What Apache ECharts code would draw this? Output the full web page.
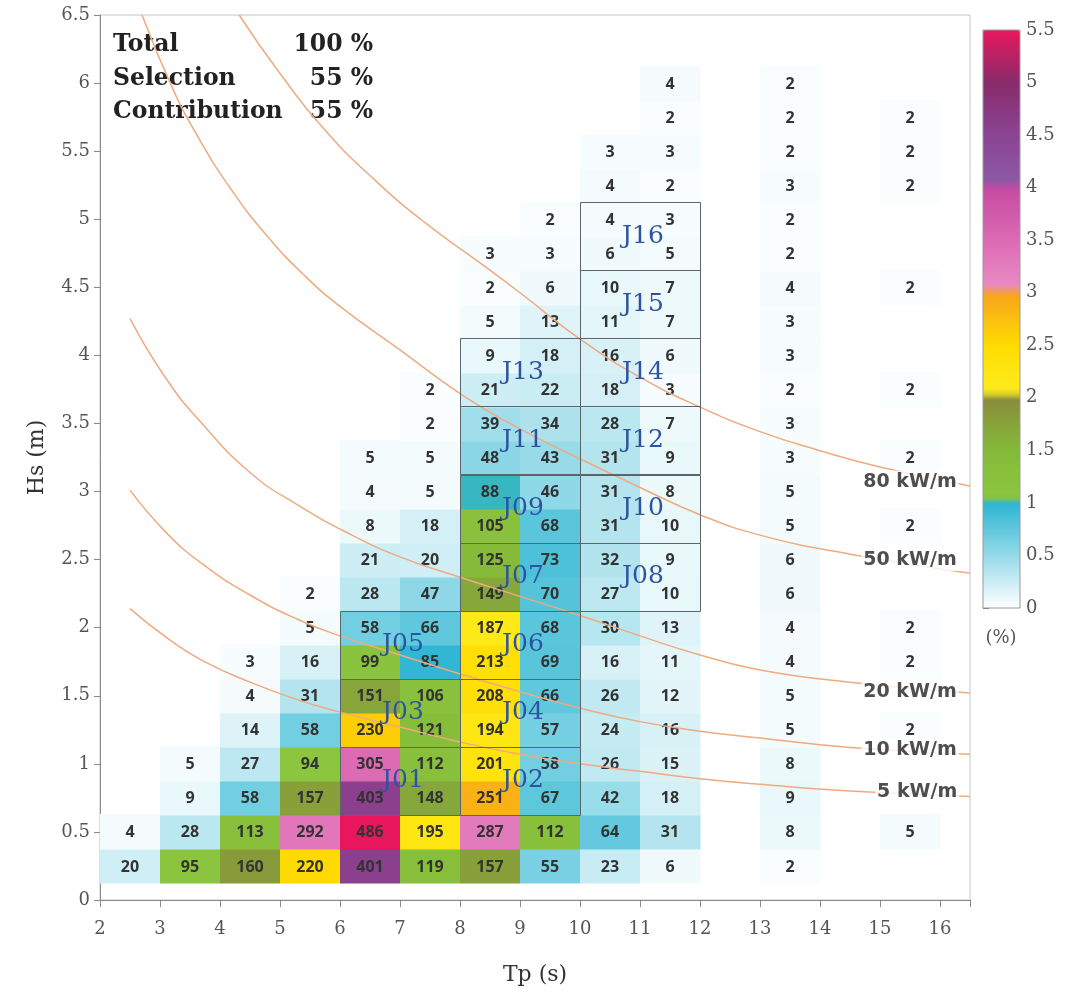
<!DOCTYPE html>
<html><head><meta charset="utf-8">
<script src="https://cdn.jsdelivr.net/npm/echarts@6/dist/echarts.min.js"></script>
<style>html,body{margin:0;padding:0;background:#fff}#c{width:1071px;height:992px}</style>
</head><body><div id="c"></div>
<script>
// ---------- DATA ----------
// Tp bin centres (s)
const tpCenters = [2.5, 3.5, 4.5, 5.5, 6.5, 7.5, 8.5, 9.5, 10.5, 11.5, 13.5, 15.5];
// Hs bin centres (m), bottom to top
const hsCenters = [0.25, 0.5, 0.75, 1, 1.25, 1.5, 1.75, 2, 2.25, 2.5, 2.75, 3, 3.25, 3.5, 3.75, 4, 4.25, 4.5, 4.75, 5, 5.25, 5.5, 5.75, 6];
// occurrence counts per Tp column, listed from Hs = 0.25 upwards
const n = null;
const countTp2_5  = [20, 4];
const countTp3_5  = [95, 28, 9, 5];
const countTp4_5  = [160, 113, 58, 27, 14, 4, 3];
const countTp5_5  = [220, 292, 157, 94, 58, 31, 16, 5, 2];
const countTp6_5  = [401, 486, 403, 305, 230, 151, 99, 58, 28, 21, 8, 4, 5];
const countTp7_5  = [119, 195, 148, 112, 121, 106, 85, 66, 47, 20, 18, 5, 5, 2, 2];
const countTp8_5  = [157, 287, 251, 201, 194, 208, 213, 187, 149, 125, 105, 88, 48, 39, 21, 9, 5, 2, 3];
const countTp9_5  = [55, 112, 67, 58, 57, 66, 69, 68, 70, 73, 68, 46, 43, 34, 22, 18, 13, 6, 3, 2];
const countTp10_5 = [23, 64, 42, 26, 24, 26, 16, 30, 27, 32, 31, 31, 31, 28, 18, 16, 11, 10, 6, 4, 4, 3];
const countTp11_5 = [6, 31, 18, 15, 16, 12, 11, 13, 10, 9, 10, 8, 9, 7, 3, 6, 7, 7, 5, 3, 2, 3, 2, 4];
const countTp13_5 = [2, 8, 9, 8, 5, 5, 4, 4, 6, 6, 5, 5, 3, 3, 2, 3, 3, 4, 2, 2, 3, 2, 2, 2];
const countTp15_5 = [n, 5, n, n, 2, n, 2, 2, n, n, 2, n, 2, n, 2, n, n, 2, n, n, 2, 2, 2, n];
const countColumns = [countTp2_5, countTp3_5, countTp4_5, countTp5_5, countTp6_5, countTp7_5,
  countTp8_5, countTp9_5, countTp10_5, countTp11_5, countTp13_5, countTp15_5];

// selection boxes (lower-left corner, Tp s / Hs m)
const boxNames  = ['J01','J02','J03','J04','J05','J06','J07','J08','J09','J10','J11','J12','J13','J14','J15','J16'];
const boxTpFrom = [6, 8, 6, 8, 6, 8, 8, 10, 8, 10, 8, 10, 8, 10, 10, 10];
const boxHsFrom = [0.625, 0.625, 1.125, 1.125, 1.625, 1.625, 2.125, 2.125, 2.625, 2.625, 3.125, 3.125, 3.625, 3.625, 4.125, 4.625];

// iso wave-power curves [Tp, Hs]
const curve80 = [[4.32,6.5],[5,6.07],[5.8,5.63],[6.6,5.28],[7.4,4.98],[8.3,4.69],[9,4.46],[10,4.12],[11,3.84],[12,3.62],[13,3.44],[14,3.3],[15,3.18],[16.5,3.04]];
const curve50 = [[2.7,6.5],[3.2,5.97],[3.6,5.63],[4.2,5.21],[4.8,4.87],[5.4,4.59],[6,4.36],[7,4.04],[8,3.72],[9,3.46],[10,3.24],[11,3.03],[12,2.83],[13,2.68],[14.5,2.54],[16.5,2.4]];
const curve20 = [[2.5,4.27],[3.1,3.83],[3.7,3.5],[4.5,3.14],[5.3,2.9],[6.2,2.68],[7,2.52],[8,2.37],[9,2.23],[10,2.09],[11,1.94],[12,1.8],[13,1.69],[14.5,1.6],[16.5,1.52]];
const curve10 = [[2.5,3.01],[3.1,2.7],[3.7,2.47],[4.5,2.24],[5.3,2.06],[6,1.94],[7,1.8],[8,1.66],[9,1.53],[10,1.41],[11,1.31],[12,1.24],[13,1.19],[14.5,1.12],[16.5,1.07]];
const curve5  = [[2.5,2.14],[3.1,1.93],[3.7,1.76],[4.5,1.6],[5.3,1.47],[6,1.38],[7,1.27],[8,1.16],[9,1.07],[10,1.0],[11,0.945],[12,0.89],[13,0.85],[14.5,0.8],[16.5,0.76]];
const curveNames = ['80 kW/m', '50 kW/m', '20 kW/m', '10 kW/m', '5 kW/m'];
const curveLabelTp = [15.5, 15.5, 15.5, 15.5, 15.62];
const curveLabelHs = [3.07, 2.5, 1.53, 1.1, 0.79];

// summary text
const summaryNames  = ['Total', 'Selection', 'Contribution'];
const summaryValues = ['100 %', '55 %', '55 %'];

// colour-bar ticks (%)
const pctMin = 0, pctMax = 5.5, pctStep = 0.5;

// ---------- BUILD ----------
let total = 0;
countColumns.forEach(col => col.forEach(c => { if (c != null) total += c; }));
const cellData = [];
countColumns.forEach((col, ci) => col.forEach((c, ri) => {
  if (c != null) cellData.push([tpCenters[ci], hsCenters[ri], c / total * 100, c]);
}));

const CELL_W = 1, CELL_H = 0.25, BOX_W = 2, BOX_H = 0.5;

// colour scale (piecewise, with steps at 1, 2, 3, 4 %)
const colorStops = [
  [0, '#ffffff'], [1, '#2bb5d2'],
  [1, '#8dc63f'], [1.5, '#84ba38'], [2, '#8a8b3c'],
  [2, '#fcee21'], [2.5, '#ffdc00'], [3, '#f7a21c'],
  [3, '#ea8fc6'], [3.5, '#dc6ab3'], [4, '#c64aa1'],
  [4, '#8c5ba8'], [4.5, '#8b4494'], [5, '#892b6b'], [5.5, '#e8175d']
];
function hex(c) { return [parseInt(c.slice(1,3),16), parseInt(c.slice(3,5),16), parseInt(c.slice(5,7),16)]; }
function colorAt(v) {
  for (let i = 0; i < colorStops.length - 1; i++) {
    const a = colorStops[i], b = colorStops[i + 1];
    if (a[0] < b[0] && v >= a[0] && v <= b[0]) {
      const t = (v - a[0]) / (b[0] - a[0]);
      const ca = hex(a[1]), cb = hex(b[1]);
      return 'rgb(' + ca.map((x, k) => Math.round(x + (cb[k] - x) * t)).join(',') + ')';
    }
  }
  return colorStops[colorStops.length - 1][1];
}
const scaleColors = [];
for (let k = 0; k <= 110; k++) scaleColors.push(colorAt(k / 20));

const SERIF = '"DejaVu Serif", serif';

function renderCell(params, api) {
  const tp = api.value(0), hs = api.value(1);
  const a = api.coord([tp - CELL_W / 2, hs + CELL_H / 2]);
  const b = api.coord([tp + CELL_W / 2, hs - CELL_H / 2]);
  const c = api.coord([tp, hs]);
  const x0 = Math.floor(a[0]), y0 = Math.floor(a[1]);
  return { type: 'group', children: [
    { type: 'rect', shape: { x: x0, y: y0, width: Math.ceil(b[0]) - x0 + 0.5, height: Math.ceil(b[1]) - y0 + 0.5 },
      style: { fill: api.visual('color') } },
    { type: 'text', x: c[0], y: c[1] + 1, style: { text: String(api.value(3)), align: 'center', verticalAlign: 'middle',
      font: 'bold 16px "Open Sans", sans-serif', fill: '#333' } }
  ]};
}
function renderBox(params, api) {
  const tp = api.value(0), hs = api.value(1), idx = api.value(2);
  const a = api.coord([tp, hs + BOX_H]);
  const b = api.coord([tp + BOX_W, hs]);
  const c = api.coord([tp + BOX_W / 2, hs + BOX_H / 2]);
  return { type: 'group', children: [
    { type: 'rect', shape: { x: Math.round(a[0]) + 0.5, y: Math.round(a[1]) + 0.5, width: Math.round(b[0] - a[0]), height: Math.round(b[1] - a[1]) },
      style: { fill: 'none', stroke: '#5b666b', lineWidth: 1 } },
    { type: 'text', x: c[0] + 3, y: c[1], style: { text: boxNames[idx], align: 'center', verticalAlign: 'middle',
      font: '25px ' + SERIF, fill: '#2e53a0' } }
  ]};
}

const curveLineStyle = { color: '#efaa80', width: 1.5 };
function curveSeries(data) {
  return { type: 'line', data: data, smooth: true, symbol: 'none', z: 3, silent: true,
    lineStyle: curveLineStyle, xAxisIndex: 0, yAxisIndex: 0 };
}

const graphics = [];
summaryNames.forEach((t, i) => {
  graphics.push({ type: 'text', x: 113, y: 45 + i * 33.5, style: { text: t, font: 'bold 23.5px ' + SERIF, fill: '#222', verticalAlign: 'middle' } });
  graphics.push({ type: 'text', x: 373, y: 45 + i * 33.5, style: { text: summaryValues[i], font: 'bold 23.5px ' + SERIF, fill: '#222', align: 'right', verticalAlign: 'middle' } });
});
graphics.push({ type: 'text', x: 1001, y: 638, style: { text: '(%)', font: '18px ' + SERIF, fill: '#555', align: 'center', verticalAlign: 'middle' } });

const chart = echarts.init(document.getElementById('c'), null, { renderer: 'canvas' });
chart.setOption({
  animation: false,
  backgroundColor: '#fff',
  grid: [
    { left: 100, top: 15, width: 870, height: 885, show: true, borderColor: '#c4c4c4', borderWidth: 1, backgroundColor: 'transparent' },
    { left: 983, top: 30, width: 37, height: 578, show: true, borderColor: '#9a9a9a', borderWidth: 1, backgroundColor: 'transparent', z: 10 }
  ],
  xAxis: [
    { type: 'value', gridIndex: 0, min: 2, max: 16.5, interval: 1,
      name: 'Tp (s)', nameLocation: 'middle', nameGap: 64,
      nameTextStyle: { fontFamily: SERIF, fontSize: 22, color: '#333' },
      axisLine: { show: true, lineStyle: { color: '#8a8a8a' } },
      axisTick: { show: true, length: 7, lineStyle: { color: '#8a8a8a' } },
      axisLabel: { fontFamily: SERIF, fontSize: 18, color: '#555', margin: 20,
        formatter: v => (Number.isInteger(v) ? String(v) : '') },
      splitLine: { show: false } },
    { type: 'value', gridIndex: 1, min: 0, max: 1, show: false }
  ],
  yAxis: [
    { type: 'value', gridIndex: 0, min: 0, max: 6.5, interval: 0.5,
      name: 'Hs (m)', nameLocation: 'middle', nameGap: 52, nameRotate: 90,
      nameTextStyle: { fontFamily: SERIF, fontSize: 22, color: '#333' },
      axisLine: { show: true, lineStyle: { color: '#8a8a8a' } },
      axisTick: { show: true, length: 6, lineStyle: { color: '#8a8a8a' } },
      axisLabel: { fontFamily: SERIF, fontSize: 18, color: '#555', margin: 10 },
      splitLine: { show: false } },
    { type: 'value', gridIndex: 1, min: pctMin, max: pctMax, interval: pctStep, position: 'right',
      axisLine: { show: false },
      axisTick: { show: true, length: 6, lineStyle: { color: '#777' } },
      axisLabel: { fontFamily: SERIF, fontSize: 18, color: '#555', margin: 6 },
      splitLine: { show: false } }
  ],
  visualMap: {
    type: 'continuous', min: pctMin, max: pctMax, dimension: 2, seriesIndex: 0,
    inRange: { color: scaleColors },
    left: 983, top: 30, itemWidth: 37, itemHeight: 578, padding: 0,
    calculable: false, hoverLink: false, realtime: false, text: null, z: 4
  },
  series: [
    { type: 'custom', name: 'cells', data: cellData, renderItem: renderCell, z: 1, silent: true,
      encode: { x: 0, y: 1 }, xAxisIndex: 0, yAxisIndex: 0, clip: true },
    curveSeries(curve80), curveSeries(curve50), curveSeries(curve20), curveSeries(curve10), curveSeries(curve5),
    { type: 'custom', name: 'boxes', data: boxNames.map((nm, i) => [boxTpFrom[i], boxHsFrom[i], i]),
      renderItem: renderBox, z: 4, silent: true, encode: { x: 0, y: 1 }, xAxisIndex: 0, yAxisIndex: 0 },
    { type: 'scatter', name: 'curve labels', z: 6, silent: true, symbolSize: 1,
      itemStyle: { color: 'rgba(0,0,0,0)' },
      data: curveNames.map((nm, i) => ({ name: nm, value: [curveLabelTp[i], curveLabelHs[i]] })),
      label: { show: true, position: 'inside', formatter: '{b}', fontFamily: '"DejaVu Sans", sans-serif',
        fontWeight: 'bold', fontSize: 19, color: '#222', backgroundColor: '#fff', padding: [2, 2] } }
  ],
  graphic: graphics
});
</script></body></html>
